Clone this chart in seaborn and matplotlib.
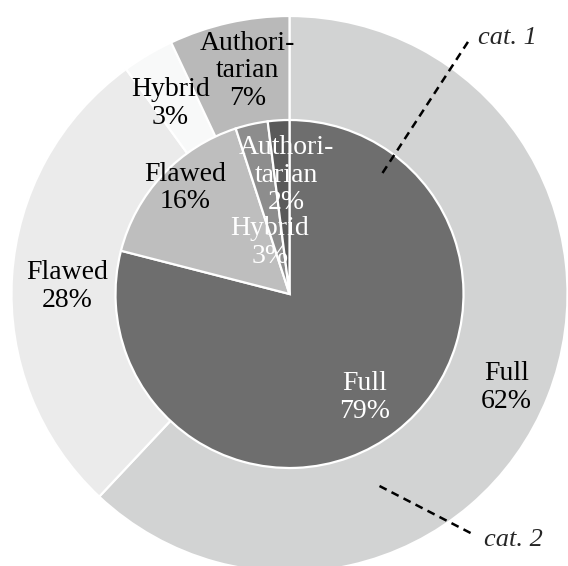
import numpy as np
import matplotlib
matplotlib.use("Agg")
import matplotlib.pyplot as plt
import seaborn as sns

# ─── Data ────────────────────────────────────────────────────────────────────
categories   = ["Full", "Flawed", "Hybrid", "Authoritarian"]
label_names  = ["Full", "Flawed", "Hybrid", "Authori-\ntarian"]
inner_values = [79, 16, 3, 2]     # cat. 1
outer_values = [62, 28, 3, 7]     # cat. 2

inner_colors = ["#6e6e6e", "#bebebe", "#8d8d8d", "#5a5a5a"]
outer_colors = ["#d2d3d3", "#ebebeb", "#f8f9f9", "#b9b9b9"]
inner_text   = ["white", "black", "white", "white"]

# label placement: radius (px) and angle nudge (deg) per slice
inner_lab_r  = [125, 151, 58, 122]
inner_lab_da = [-1, -3, 7, -2]
outer_lab_r  = [235, 223, 227, 230]
outer_lab_da = [-1, 1, 1, -2]

sns.set_style("white")
plt.rcParams["font.family"] = ["Liberation Serif", "DejaVu Serif"]

R_OUT, R_IN = 278, 174
FS = 20

fig = plt.figure(figsize=(5.68, 5.66), dpi=100)
ax = fig.add_axes([0, 0, 1, 1])

wedge_kw = dict(edgecolor="white", linewidth=1.6)
outer, _ = ax.pie(outer_values, radius=R_OUT, colors=outer_colors,
                  startangle=90, counterclock=False, wedgeprops=wedge_kw,
                  frame=True)
inner, _ = ax.pie(inner_values, radius=R_IN, colors=inner_colors,
                  startangle=90, counterclock=False, wedgeprops=wedge_kw,
                  frame=True)


def mid_xy(w, r, da):
    ang = np.deg2rad((w.theta1 + w.theta2) / 2 + da)
    return r * np.cos(ang), r * np.sin(ang) - 3


for w, name, val, r, da in zip(outer, label_names, outer_values,
                               outer_lab_r, outer_lab_da):
    x, y = mid_xy(w, r, da)
    ax.text(x, y, f"{name}\n{val}%", ha="center", va="center",
            fontsize=FS, color="black", linespacing=1.15)

for w, name, val, c, r, da in zip(inner, label_names, inner_values,
                                  inner_text, inner_lab_r, inner_lab_da):
    x, y = mid_xy(w, r, da)
    ax.text(x, y, f"{name}\n{val}%", ha="center", va="center",
            fontsize=FS, color=c, linespacing=1.15)

# series annotations
ax.plot([93, 181], [121, 256], color="black", lw=1.8, ls=(0, (3.2, 2.2)))
ax.text(188, 256, "cat. 1", ha="left", va="center", fontsize=FS - 1,
        style="italic")
ax.plot([90, 183], [-192, -240], color="black", lw=1.8, ls=(0, (3.2, 2.2)))
ax.text(195, -246, "cat. 2", ha="left", va="center", fontsize=FS - 1,
        style="italic")

ax.set_xlim(-289.5, 278.5)
ax.set_ylim(-272, 294)
ax.set_aspect("equal")
ax.axis("off")

fig.savefig("out.png", dpi=100)
